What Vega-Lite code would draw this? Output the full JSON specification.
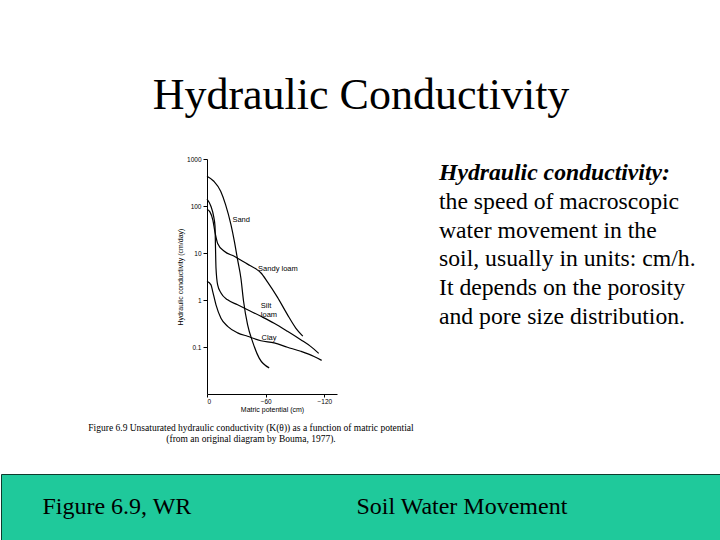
{
  "$schema": "https://vega.github.io/schema/vega-lite/v6.json",
  "background": "white",
  "padding": {"left": 0, "right": 0, "top": 74, "bottom": 0},
  "bounds": "full",
  "spacing": 0,
  "title": {
    "text": "Hydraulic Conductivity",
    "font": "Liberation Serif",
    "fontSize": 44,
    "fontWeight": "normal",
    "color": "black",
    "anchor": "middle",
    "offset": 38
  },
  "config": {
    "view": {"stroke": null},
    "axis": {
      "grid": false,
      "domainColor": "black",
      "tickColor": "black",
      "labelColor": "black",
      "titleColor": "black",
      "labelFont": "Liberation Sans",
      "titleFont": "Liberation Sans",
      "titleFontWeight": "normal"
    }
  },
  "vconcat": [
    {
      "bounds": "flush",
      "spacing": 102,
      "hconcat": [
        {"width": 104, "height": 314, "data": {"values": []}, "mark": "text"},
        {
          "width": 130,
          "height": 235,
          "title": {
            "text": [
              "Figure 6.9 Unsaturated hydraulic conductivity (K(θ)) as a function of matric potential",
              "(from an original diagram by Bouma, 1977)."
            ],
            "orient": "bottom",
            "font": "Liberation Serif",
            "fontSize": 9.5,
            "fontWeight": "normal",
            "color": "black",
            "anchor": "middle",
            "dx": -21,
            "offset": 10,
            "lineHeight": 11.5
          },
          "layer": [
            {
              "data": {
                "values": [
                  {"soil": "Sand", "potential": 0, "conductivity": 430},
                  {"soil": "Sand", "potential": -7, "conductivity": 336},
                  {"soil": "Sand", "potential": -14, "conductivity": 206},
                  {"soil": "Sand", "potential": -19, "conductivity": 107},
                  {"soil": "Sand", "potential": -24.5, "conductivity": 40},
                  {"soil": "Sand", "potential": -28, "conductivity": 17.7},
                  {"soil": "Sand", "potential": -31.3, "conductivity": 7.2},
                  {"soil": "Sand", "potential": -34.7, "conductivity": 2.9},
                  {"soil": "Sand", "potential": -37.4, "conductivity": 0.94},
                  {"soil": "Sand", "potential": -41.5, "conductivity": 0.3},
                  {"soil": "Sand", "potential": -46.6, "conductivity": 0.13},
                  {"soil": "Sand", "potential": -53.4, "conductivity": 0.058},
                  {"soil": "Sand", "potential": -63.6, "conductivity": 0.036},
                  {"soil": "Sandy loam", "potential": 0, "conductivity": 85},
                  {"soil": "Sandy loam", "potential": -3, "conductivity": 75},
                  {"soil": "Sandy loam", "potential": -6, "conductivity": 50},
                  {"soil": "Sandy loam", "potential": -8, "conductivity": 29},
                  {"soil": "Sandy loam", "potential": -10.9, "conductivity": 16},
                  {"soil": "Sandy loam", "potential": -17.7, "conductivity": 10.9},
                  {"soil": "Sandy loam", "potential": -27.9, "conductivity": 8.5},
                  {"soil": "Sandy loam", "potential": -41.5, "conductivity": 5.8},
                  {"soil": "Sandy loam", "potential": -50, "conductivity": 4.6},
                  {"soil": "Sandy loam", "potential": -55, "conductivity": 3.8},
                  {"soil": "Sandy loam", "potential": -62, "conductivity": 2.4},
                  {"soil": "Sandy loam", "potential": -72, "conductivity": 1.15},
                  {"soil": "Sandy loam", "potential": -82, "conductivity": 0.5},
                  {"soil": "Sandy loam", "potential": -91, "conductivity": 0.25},
                  {"soil": "Sandy loam", "potential": -98, "conductivity": 0.17},
                  {"soil": "Silt loam", "potential": 0, "conductivity": 140},
                  {"soil": "Silt loam", "potential": -4, "conductivity": 99},
                  {"soil": "Silt loam", "potential": -6.8, "conductivity": 60},
                  {"soil": "Silt loam", "potential": -8.2, "conductivity": 37},
                  {"soil": "Silt loam", "potential": -8.7, "conductivity": 12.8},
                  {"soil": "Silt loam", "potential": -9.2, "conductivity": 4.8},
                  {"soil": "Silt loam", "potential": -10.9, "conductivity": 2.1},
                  {"soil": "Silt loam", "potential": -14.3, "conductivity": 1.41},
                  {"soil": "Silt loam", "potential": -21.1, "conductivity": 1.01},
                  {"soil": "Silt loam", "potential": -31.3, "conductivity": 0.79},
                  {"soil": "Silt loam", "potential": -41.5, "conductivity": 0.62},
                  {"soil": "Silt loam", "potential": -55.1, "conductivity": 0.45},
                  {"soil": "Silt loam", "potential": -68.7, "conductivity": 0.32},
                  {"soil": "Silt loam", "potential": -82.3, "conductivity": 0.216},
                  {"soil": "Silt loam", "potential": -95.9, "conductivity": 0.143},
                  {"soil": "Silt loam", "potential": -106, "conductivity": 0.103},
                  {"soil": "Silt loam", "potential": -114.3, "conductivity": 0.073},
                  {"soil": "Clay", "potential": 0, "conductivity": 2.5},
                  {"soil": "Clay", "potential": -4.1, "conductivity": 2.1},
                  {"soil": "Clay", "potential": -5.8, "conductivity": 1.53},
                  {"soil": "Clay", "potential": -9.2, "conductivity": 0.79},
                  {"soil": "Clay", "potential": -14.3, "conductivity": 0.41},
                  {"soil": "Clay", "potential": -21.1, "conductivity": 0.275},
                  {"soil": "Clay", "potential": -31.3, "conductivity": 0.2},
                  {"soil": "Clay", "potential": -41.5, "conductivity": 0.169},
                  {"soil": "Clay", "potential": -55.1, "conductivity": 0.136},
                  {"soil": "Clay", "potential": -68.7, "conductivity": 0.122},
                  {"soil": "Clay", "potential": -82.3, "conductivity": 0.099},
                  {"soil": "Clay", "potential": -95.9, "conductivity": 0.081},
                  {"soil": "Clay", "potential": -109.5, "conductivity": 0.063},
                  {"soil": "Clay", "potential": -117.3, "conductivity": 0.052}
                ]
              },
              "mark": {"type": "line", "color": "black", "strokeWidth": 1.2, "interpolate": "monotone"},
              "encoding": {
                "x": {
                  "field": "potential",
                  "type": "quantitative",
                  "scale": {"domain": [0, -133], "nice": false},
                  "axis": {
                    "values": [0, -60, -120],
                    "title": "Matric potential (cm)",
                    "labelFontSize": 6.5,
                    "titleFontSize": 7,
                    "tickSize": 3,
                    "labelPadding": 1,
                    "titlePadding": 1
                  }
                },
                "y": {
                  "field": "conductivity",
                  "type": "quantitative",
                  "scale": {"type": "log", "domain": [0.01, 1000], "nice": false},
                  "axis": {
                    "values": [0.1, 1, 10, 100, 1000],
                    "format": "~g",
                    "title": "Hydraulic conductivity (cm/day)",
                    "labelFontSize": 6.5,
                    "titleFontSize": 7,
                    "tickSize": 4,
                    "labelPadding": 2,
                    "titlePadding": 3
                  }
                },
                "detail": {"field": "soil"}
              }
            },
            {
              "data": {
                "values": [
                  {"label": "Sand", "potential": -26, "conductivity": 51},
                  {"label": "Sandy loam", "potential": -52.3, "conductivity": 4.6},
                  {"label": "Silt", "potential": -55.1, "conductivity": 0.73},
                  {"label": "loam", "potential": -55.1, "conductivity": 0.49},
                  {"label": "Clay", "potential": -55.8, "conductivity": 0.155}
                ]
              },
              "mark": {"type": "text", "align": "left", "baseline": "middle", "font": "Liberation Sans", "fontSize": 7.5, "color": "black"},
              "encoding": {
                "x": {"field": "potential", "type": "quantitative"},
                "y": {"field": "conductivity", "type": "quantitative"},
                "text": {"field": "label"}
              }
            }
          ]
        },
        {
          "width": 280,
          "height": 172,
          "data": {
            "values": [
              {"line": 1, "text": "Hydraulic conductivity:"},
              {"line": 2, "text": "the speed of macroscopic"},
              {"line": 3, "text": "water movement in the"},
              {"line": 4, "text": "soil, usually in units: cm/h."},
              {"line": 5, "text": "It depends on the porosity"},
              {"line": 6, "text": "and pore size distribution."}
            ]
          },
          "encoding": {
            "x": {"datum": 0, "type": "quantitative", "scale": {"domain": [0, 1]}, "axis": null},
            "y": {"field": "line", "type": "ordinal", "scale": {"type": "point", "padding": 0.5}, "axis": null},
            "text": {"field": "text"}
          },
          "layer": [
            {
              "transform": [{"filter": "datum.line == 1"}],
              "mark": {"type": "text", "align": "left", "baseline": "middle", "font": "Liberation Serif", "fontSize": 23.7, "fontStyle": "italic", "fontWeight": "bold", "color": "black"}
            },
            {
              "transform": [{"filter": "datum.line > 1"}],
              "mark": {"type": "text", "align": "left", "baseline": "middle", "font": "Liberation Serif", "fontSize": 23.7, "color": "black"}
            }
          ]
        }
      ]
    },
    {
      "width": 720,
      "height": 66,
      "view": {"fill": "#1fc99b", "stroke": "#0e3b2d", "strokeWidth": 1},
      "data": {"values": [{"item": "Figure 6.9, WR"}, {"item": "Soil Water Movement"}]},
      "mark": {"type": "text", "font": "Liberation Serif", "fontSize": 24, "baseline": "middle", "color": "black"},
      "encoding": {
        "x": {"field": "item", "type": "nominal", "scale": {"type": "point", "padding": 0.5435, "align": 0.309}, "axis": null},
        "text": {"field": "item"}
      }
    }
  ]
}
